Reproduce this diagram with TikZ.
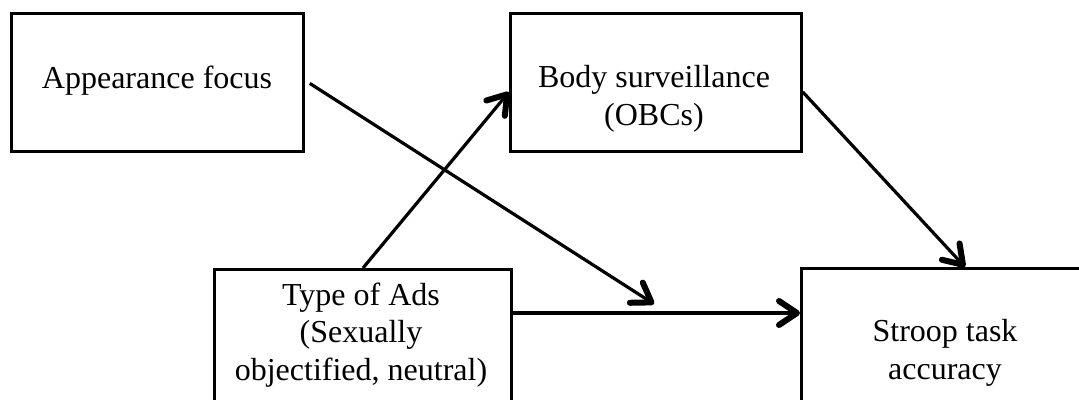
\documentclass[tikz,border=0pt]{standalone}
\usepackage{fontspec}
\setmainfont{Liberation Serif}
\usetikzlibrary{arrows.meta,calc}
\begin{document}
\begin{tikzpicture}[x=1pt,y=-1pt,
  box/.style={draw=black,line width=2.8pt,rectangle,inner sep=0pt,anchor=north west},
  txt/.style={font=\fontsize{32}{37.5}\selectfont,align=center,inner sep=0pt,anchor=base},
  arr/.style={line width=3.2pt,-{Straight Barb[length=18pt,width=24pt,line width=6pt,round]}}]
\useasboundingbox (0,0) rectangle (1079,399);
\clip (0,0) rectangle (1079,399);
\node[box,minimum width=292pt,minimum height=138pt] (app) at (10,12) {};
\node[box,minimum width=291pt,minimum height=138pt] (body) at (509,12) {};
\node[box,minimum width=297pt,minimum height=160pt] (type) at (213,268) {};
\node[box,minimum width=300pt,minimum height=160pt] (stroop) at (800,267) {};
\node[txt] (appt) at (157,88) {Appearance focus};
\node[txt] (bodyt) at (654,125) {Body surveillance\\(OBCs)};
\node[txt] (typet) at (361,380) {Type of Ads\\(Sexually\\objectified, neutral)};
\node[txt] (stroopt) at (945,379) {Stroop task\\accuracy};
\coordinate (mod) at (654,304);
\coordinate (appS) at ($(app.east)+(5,1)$);
\coordinate (typeN) at ($(type.north west)+(150,0)$);
\coordinate (bodyW) at ($(body.north west)+(0,80)$);
\coordinate (typeE) at ($(type.north east)+(0,45)$);
\coordinate (stroopW) at ($(stroop.north west)+(0,46)$);
\coordinate (bodyE) at ($(body.north east)+(0,80)$);
\coordinate (stroopN) at ($(stroop.north west)+(165,0)$);
\draw[arr] (appS) -- (mod);
\draw[arr] (typeN) -- (bodyW);
\draw[arr] (typeE) -- (stroopW);
\draw[arr] (bodyE) -- (stroopN);
\end{tikzpicture}
\end{document}
